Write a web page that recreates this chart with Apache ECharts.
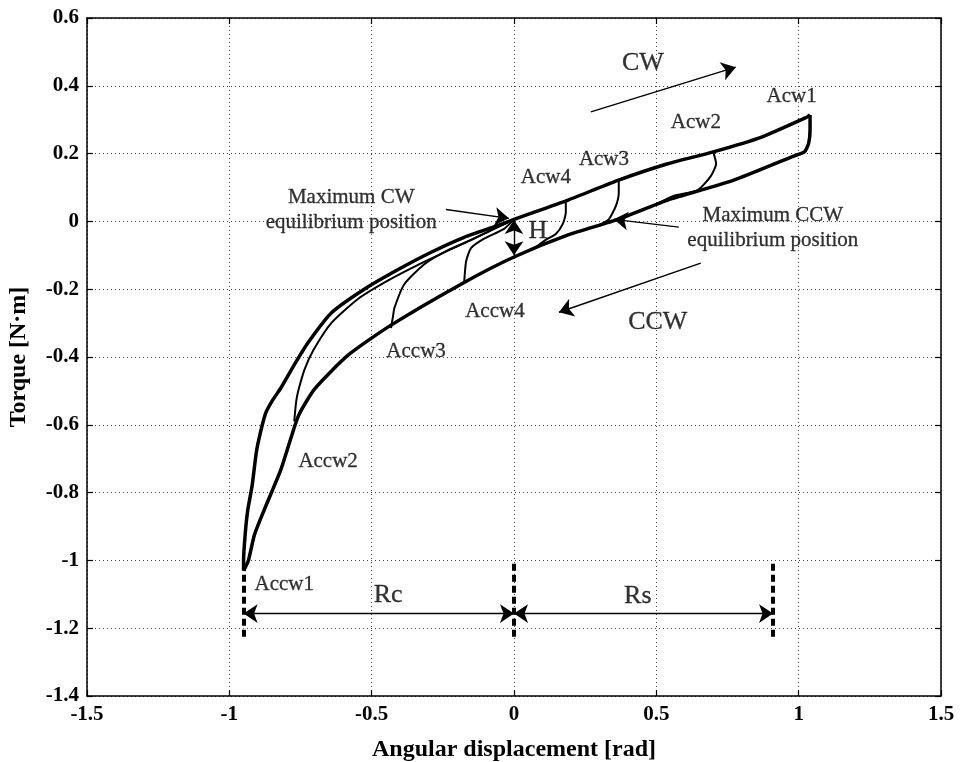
<!DOCTYPE html>
<html>
<head>
<meta charset="utf-8">
<script src="https://cdn.jsdelivr.net/npm/echarts@6/dist/echarts.min.js"></script>
<style>
  html, body { margin: 0; padding: 0; background: #fff; }
  #chart { width: 962px; height: 762px; }
</style>
</head>
<body>
<div id="chart"></div>
<script>
// Torque vs. angular displacement hysteresis of the spring mechanism.
// Each curve is a list of [angle (rad), torque (N·m)] samples.

// Outer loop, CW branch: from Accw1 up to Acw1
const cwBranchOuter = [
  [-0.95, -1.03], [-0.95, -1.0], [-0.944, -0.92], [-0.935, -0.85], [-0.92, -0.78],
  [-0.905, -0.68], [-0.89, -0.62], [-0.872, -0.565], [-0.85, -0.53], [-0.818, -0.49],
  [-0.77, -0.42], [-0.723, -0.357], [-0.642, -0.27], [-0.526, -0.2], [-0.407, -0.142],
  [-0.291, -0.091], [-0.175, -0.047], [-0.056, -0.012], [0, 0.006], [0.19, 0.063],
  [0.365, 0.121], [0.54, 0.17], [0.7, 0.205], [0.867, 0.248], [1.03, 0.308], [1.04, 0.314]
];

// Outer loop, CCW branch: from Acw1 back down to Accw1
const ccwBranchOuter = [
  [1.04, 0.314], [1.04, 0.27], [1.035, 0.23], [1.02, 0.205], [0.98, 0.192],
  [0.77, 0.121], [0.54, 0.063], [0.365, 0.006], [0.19, -0.04], [0, -0.105],
  [-0.175, -0.18], [-0.432, -0.306], [-0.582, -0.394], [-0.7, -0.494], [-0.758, -0.575],
  [-0.818, -0.73], [-0.877, -0.85], [-0.912, -0.925], [-0.933, -1.0], [-0.95, -1.03]
];

// Inner loops: rising curves after each CCW reversal (Accw2..Accw4)
const riseAccw2 = [
  [-0.772, -0.59], [-0.765, -0.53], [-0.756, -0.494], [-0.735, -0.435], [-0.705, -0.38],
  [-0.642, -0.3], [-0.547, -0.228], [-0.442, -0.174], [-0.337, -0.128], [-0.196, -0.072],
  [-0.1, -0.034], [0, 0.006]
];
const riseAccw3 = [
  [-0.432, -0.315], [-0.425, -0.28], [-0.42, -0.255], [-0.386, -0.186], [-0.316, -0.127],
  [-0.232, -0.085], [-0.151, -0.055], [-0.07, -0.022], [0, 0.006]
];
const riseAccw4 = [
  [-0.175, -0.18], [-0.168, -0.117], [-0.151, -0.079], [-0.105, -0.051], [-0.035, -0.022], [0, 0.006]
];

// Inner loops: falling curves after each CW reversal (Acw2..Acw4)
const dropAcw2 = [
  [0.7, 0.205], [0.71, 0.17], [0.69, 0.132], [0.645, 0.092], [0.56, 0.075], [0.5, 0.05]
];
const dropAcw3 = [
  [0.368, 0.121], [0.368, 0.084], [0.358, 0.046], [0.333, 0.006], [0.3, -0.01]
];
const dropAcw4 = [
  [0.182, 0.06], [0.182, 0.026], [0.171, -0.008], [0.147, -0.037], [0.118, -0.051], [0.07, -0.08]
];

// Axis ranges and ticks
const xTicks = [-1.5, -1, -0.5, 0, 0.5, 1, 1.5];
const yTicks = [-1.4, -1.2, -1, -0.8, -0.6, -0.4, -0.2, 0, 0.2, 0.4, 0.6];

// Point labels [x, y, text]
const pointLabels = [
  [0.975, 0.369, 'Acw1'], [0.639, 0.291, 'Acw2'], [0.316, 0.184, 'Acw3'], [0.112, 0.13, 'Acw4'],
  [-0.807, -1.071, 'Accw1'], [-0.653, -0.709, 'Accw2'], [-0.344, -0.385, 'Accw3'], [-0.067, -0.265, 'Accw4'],
  [-0.572, 0.035, 'Maximum CW\nequilibrium position'],
  [0.909, -0.02, 'Maximum CCW\nequilibrium position']
];
// Larger annotation words [x, y, text]
const bigLabels = [
  [0.453, 0.467, 'CW'], [0.505, -0.297, 'CCW'], [0.084, -0.03, 'H'],
  [-0.442, -1.103, 'Rc'], [0.435, -1.106, 'Rs']
];

// Pointer arrows [x1, y1, x2, y2] (arrow head at the second point)
const singleArrows = [
  [0.27, 0.323, 0.779, 0.455],      // CW direction
  [0.656, -0.123, 0.158, -0.268],   // CCW direction
  [-0.239, 0.035, -0.018, 0.009],   // Maximum CW equilibrium
  [0.579, -0.017, 0.351, 0.006]     // Maximum CCW equilibrium
];
// Dimension arrows with heads at both ends [x1, y1, x2, y2]
const doubleArrows = [
  [0, 0.004, 0, -0.1],              // H
  [-0.95, -1.157, 0, -1.157],       // Rc
  [0, -1.157, 0.91, -1.157]         // Rs
];
// Dashed reference posts [x, yTop, yBottom]
const dashedPosts = [
  [-0.95, -1.01, -1.235], [0, -1.01, -1.235], [0.91, -1.01, -1.235]
];

const serif = 'Liberation Serif, Times New Roman, serif';

function curve(data, width) {
  return {
    type: 'line', data: data, showSymbol: false, symbol: 'none', smooth: 0.2,
    lineStyle: { color: '#000', width: width }, silent: true, z: 3
  };
}

const axisCommon = {
  type: 'value',
  axisLine: { show: true, onZero: false, lineStyle: { color: '#000', width: 1.5 } },
  axisTick: { show: true, inside: true, length: 6, lineStyle: { color: '#000', width: 1.2 } }
};

const tickFont = { fontFamily: serif, fontWeight: 'bold', fontSize: 21, color: '#000', margin: 8 };
const titleFont = { fontFamily: serif, fontWeight: 'bold', fontSize: 24, color: '#000' };

const option = {
  backgroundColor: '#fff',
  animation: false,
  grid: { left: 87, right: 21, top: 18, bottom: 66, containLabel: false, outerBoundsMode: 'none' },
  xAxis: [
    Object.assign({}, axisCommon, {
      min: xTicks[0], max: xTicks[xTicks.length - 1], interval: 0.5, position: 'bottom',
      name: 'Angular displacement [rad]', nameLocation: 'middle', nameGap: 42,
      nameTextStyle: titleFont,
      axisLabel: tickFont,
      splitLine: { show: true, lineStyle: { color: '#444', type: [1, 3], width: 1 } }
    }),
    Object.assign({}, axisCommon, {
      min: xTicks[0], max: xTicks[xTicks.length - 1], interval: 0.5, position: 'top',
      axisLabel: { show: false }, splitLine: { show: false }
    })
  ],
  yAxis: [
    Object.assign({}, axisCommon, {
      min: yTicks[0], max: yTicks[yTicks.length - 1], interval: 0.2, position: 'left',
      name: 'Torque [N·m]', nameLocation: 'middle', nameGap: 56,
      nameTextStyle: titleFont,
      axisLabel: tickFont,
      splitLine: { show: true, lineStyle: { color: '#444', type: [1, 3], width: 1 } }
    }),
    Object.assign({}, axisCommon, {
      min: yTicks[0], max: yTicks[yTicks.length - 1], interval: 0.2, position: 'right',
      axisLabel: { show: false }, splitLine: { show: false }
    })
  ],
  series: [
    curve(cwBranchOuter, 3.5),
    curve(ccwBranchOuter, 3.5),
    curve(riseAccw2, 2),
    curve(riseAccw3, 2),
    curve(riseAccw4, 2),
    curve(dropAcw2, 2),
    curve(dropAcw3, 2),
    curve(dropAcw4, 2),
    {
      type: 'lines', coordinateSystem: 'cartesian2d', silent: true, z: 4,
      symbol: ['none', 'arrow'], symbolSize: 14,
      lineStyle: { color: '#000', width: 1.4, opacity: 1 },
      data: singleArrows.map(a => ({ coords: [[a[0], a[1]], [a[2], a[3]]] }))
    },
    {
      type: 'lines', coordinateSystem: 'cartesian2d', silent: true, z: 4,
      symbol: ['arrow', 'arrow'], symbolSize: 14,
      lineStyle: { color: '#000', width: 1.4, opacity: 1 },
      data: doubleArrows.map(a => ({ coords: [[a[0], a[1]], [a[2], a[3]]] }))
    },
    {
      type: 'lines', coordinateSystem: 'cartesian2d', silent: true, z: 4,
      symbol: ['none', 'none'],
      lineStyle: { color: '#000', width: 4, type: [7, 4], opacity: 1 },
      data: dashedPosts.map(p => ({ coords: [[p[0], p[1]], [p[0], p[2]]] }))
    },
    {
      type: 'scatter', symbolSize: 0, silent: true, z: 5,
      data: pointLabels.map(l => ({ value: [l[0], l[1]], name: l[2] })),
      label: {
        show: true, position: 'inside', formatter: p => p.name,
        fontFamily: serif, fontSize: 21, color: '#000', lineHeight: 25, align: 'center',
        textBorderColor: '#000', textBorderWidth: 0.3
      }
    },
    {
      type: 'scatter', symbolSize: 0, silent: true, z: 5,
      data: bigLabels.map(l => ({ value: [l[0], l[1]], name: l[2] })),
      label: {
        show: true, position: 'inside', formatter: p => p.name,
        fontFamily: serif, fontSize: 26, color: '#000', align: 'center',
        textBorderColor: '#000', textBorderWidth: 0.3
      }
    }
  ]
};

const chart = echarts.init(document.getElementById('chart'), null, { renderer: 'canvas' });
chart.setOption(option);
</script>
</body>
</html>
